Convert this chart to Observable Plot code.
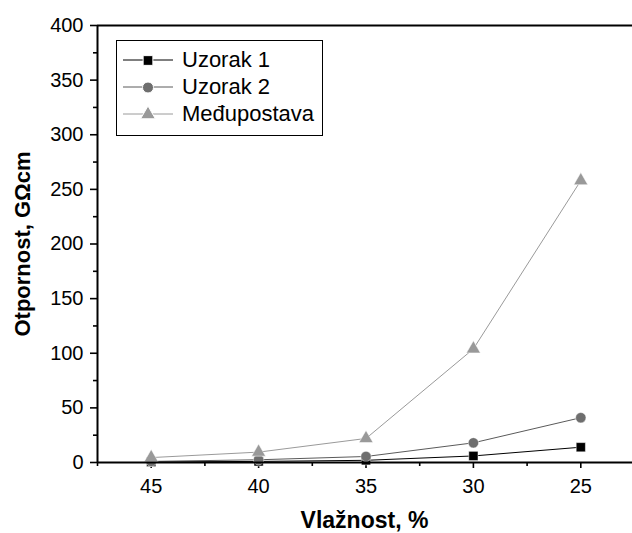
<!DOCTYPE html>
<html><head><meta charset="utf-8">
<script src="https://cdn.jsdelivr.net/npm/d3@7"></script>
<script src="https://cdn.jsdelivr.net/npm/@observablehq/plot@0.6"></script>
<style>
body{margin:0;background:#fff;font-family:"Liberation Sans",Arial,sans-serif;overflow:hidden}
#wrap{position:relative;width:632px;height:533px;overflow:hidden}
#chart svg{max-width:none !important;width:634px;height:533px}
#legend{position:absolute;left:116px;top:40px;width:205px;height:89px;border:1px solid #000;background:#fff;padding-top:5px;box-sizing:content-box}
.row{display:flex;align-items:center;height:27px;font-size:22px;color:#000;line-height:27px}
.row svg{margin-left:6px;margin-right:9px}
</style></head>
<body><div id="wrap"><div id="chart"></div><div id="legend"></div></div>
<script>
const humidity = [45, 40, 35, 30, 25];
const uzorak1 = [0.5, 1, 2, 6, 14];
const uzorak2 = [1, 2.5, 5.5, 18, 41];
const medjupostava = [4.5, 9.5, 22, 104, 258];
const seriesNames = ["Uzorak 1", "Uzorak 2", "Međupostava"];
const seriesValues = [uzorak1, uzorak2, medjupostava];
const lineColors = ["#000000", "#5a5a5a", "#9a9a9a"];
const markColors = ["#000000", "#6e6e6e", "#999999"];
const symbols = ["square", "circle", "triangle"];
const yMajor = [0, 50, 100, 150, 200, 250, 300, 350, 400];
const yMinor = [25, 75, 125, 175, 225, 275, 325, 375];
const xMajor = [45, 40, 35, 30, 25];
const xMinor = [47.5, 42.5, 37.5, 32.5, 27.5];

const rows = seriesNames.flatMap((s, i) => humidity.map((h, j) => ({series: s, h, v: seriesValues[i][j]})));

const marks = [
  Plot.axisY(yMajor, {tickSize: 7, tickPadding: 7, fontSize: 20, strokeWidth: 1.6,
    label: "Otpornost, GΩcm", labelAnchor: "center", labelArrow: "none", labelOffset: 83}),
  Plot.axisY(yMinor, {tickSize: 4, text: null, label: null, strokeWidth: 1.6}),
  Plot.axisX(xMajor, {tickSize: 6, tickPadding: 10, fontSize: 20, strokeWidth: 1.6,
    label: null}),
  Plot.axisX(xMinor, {tickSize: 4, text: null, label: null, strokeWidth: 1.6}),
];
seriesNames.forEach((s, i) => {
  const d = rows.filter(r => r.series === s);
  marks.push(Plot.line(d, {x: "h", y: "v", stroke: lineColors[i], strokeWidth: 1}));
  marks.push(Plot.dot(d, {x: "h", y: "v", symbol: symbols[i], fill: markColors[i], stroke: "white", strokeWidth: 0.5, r: 5.2}));
});
marks.push(Plot.ruleX([47.5], {stroke: "black", strokeWidth: 2}));
marks.push(Plot.ruleY([0], {stroke: "black", strokeWidth: 2}));
marks.push(Plot.ruleY([400], {stroke: "black", strokeWidth: 2}));

const chart = Plot.plot({
  width: 634, height: 533,
  marginLeft: 97, marginRight: 0, marginTop: 25, marginBottom: 71,
  style: {fontFamily: "Liberation Sans, Arial, sans-serif", background: "#fff", overflow: "visible"},
  x: {domain: [47.5, 22.5]},
  y: {domain: [0, 400]},
  marks
});
chart.querySelectorAll("g[aria-label='y-axis label'] text").forEach(t => {
  t.style.fontWeight = "bold"; t.style.fontSize = "22px";
});
document.getElementById("chart").appendChild(chart);

// x-axis title, centred under the visible plot area
const xt = document.createElement("div");
xt.textContent = "Vlažnost, %";
xt.style.cssText = "position:absolute;left:97px;width:535px;top:506px;text-align:center;font-weight:bold;font-size:23px;line-height:28px;color:#000";
document.getElementById("wrap").appendChild(xt);

const legend = document.getElementById("legend");
seriesNames.forEach((s, i) => {
  const row = document.createElement("div");
  row.className = "row";
  const ns = "http://www.w3.org/2000/svg";
  const svg = document.createElementNS(ns, "svg");
  svg.setAttribute("width", 50); svg.setAttribute("height", 20);
  const ln = document.createElementNS(ns, "line");
  ln.setAttribute("x1", 0); ln.setAttribute("x2", 50); ln.setAttribute("y1", 10); ln.setAttribute("y2", 10);
  ln.setAttribute("stroke", lineColors[i]); ln.setAttribute("stroke-width", 1);
  svg.appendChild(ln);
  const sym = d3.symbol().type([d3.symbolSquare, d3.symbolCircle, d3.symbolTriangle][i]).size(95)();
  const p = document.createElementNS(ns, "path");
  p.setAttribute("d", sym); p.setAttribute("transform", "translate(25,10.5)");
  p.setAttribute("fill", markColors[i]); p.setAttribute("stroke", "white"); p.setAttribute("stroke-width", 1);
  svg.appendChild(p);
  row.appendChild(svg);
  const span = document.createElement("span");
  span.textContent = s;
  row.appendChild(span);
  legend.appendChild(row);
});
</script></body></html>
